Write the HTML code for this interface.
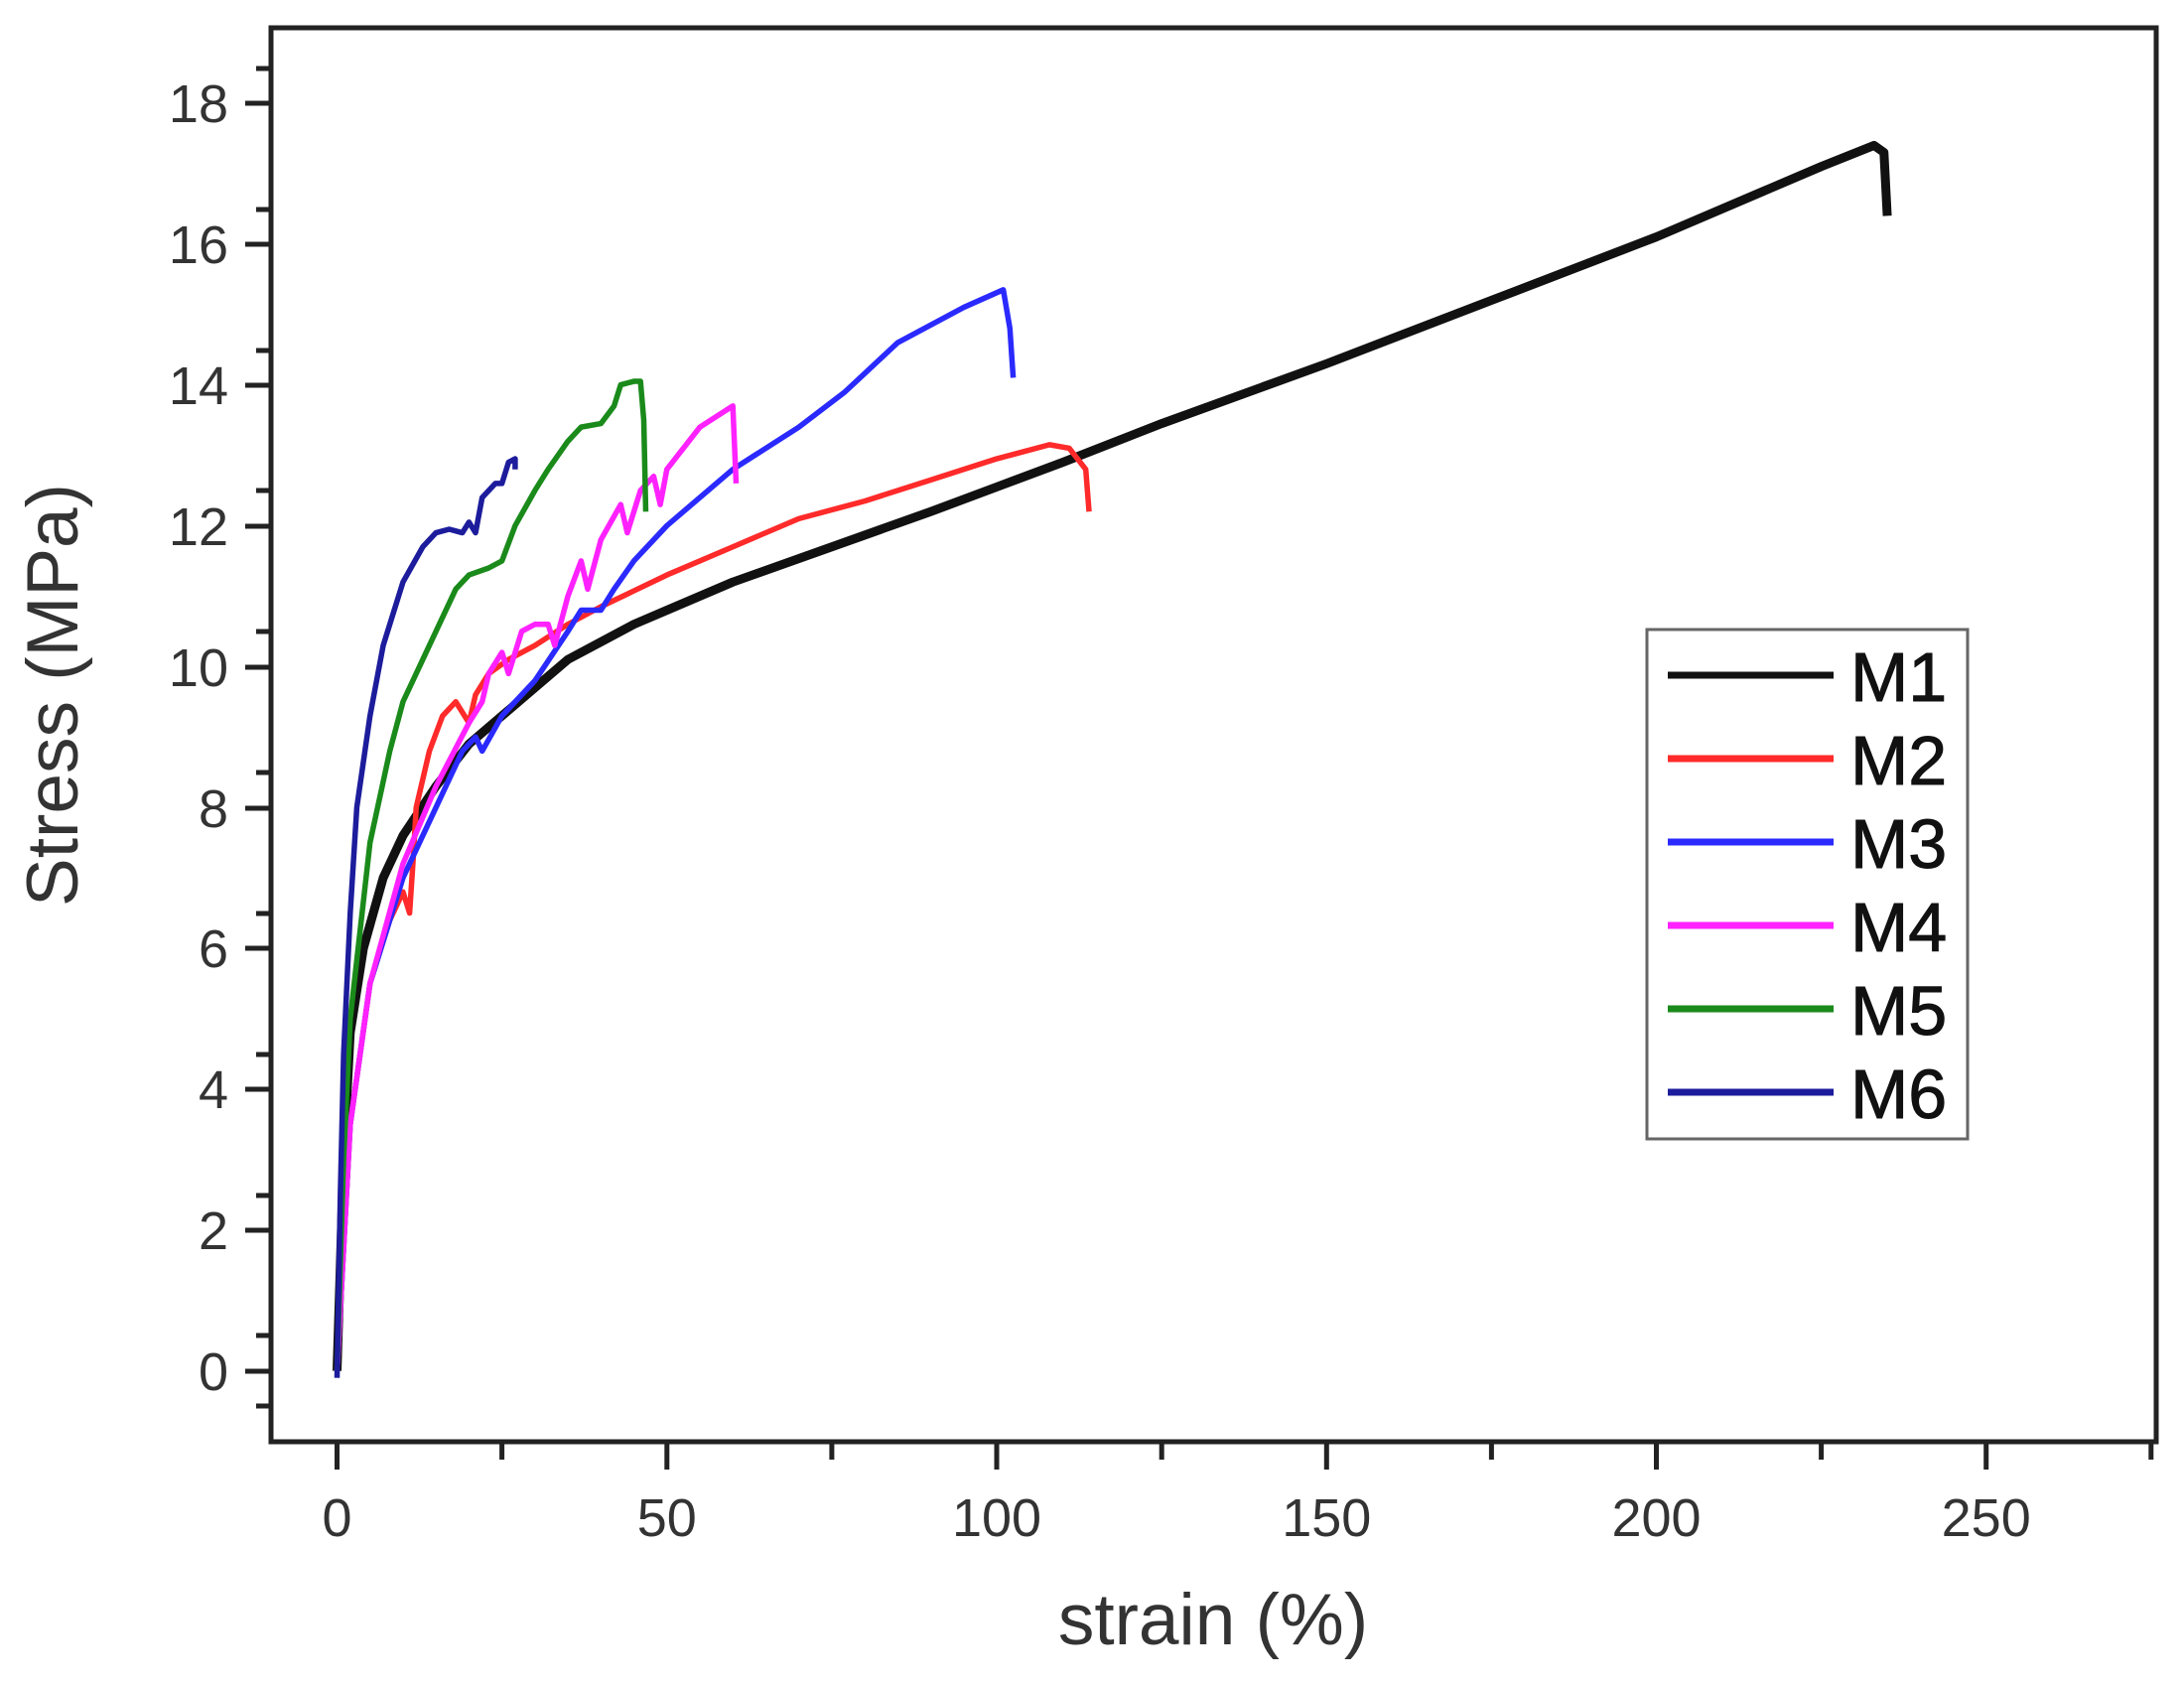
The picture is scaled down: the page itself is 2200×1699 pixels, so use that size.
<!DOCTYPE html>
<html><head><style>body{margin:0;background:#fff}</style></head><body>
<svg width="2200" height="1694" xmlns="http://www.w3.org/2000/svg" font-family="Liberation Sans, sans-serif">
<rect width="2200" height="1694" fill="#fff"/>
<rect x="273" y="28" width="1899" height="1424" fill="none" stroke="#222" stroke-width="5"/>
<g stroke="#222" stroke-width="5">
<line x1="247" y1="1381" x2="273" y2="1381"/><line x1="258" y1="1345" x2="273" y2="1345"/>
<line x1="247" y1="1239" x2="273" y2="1239"/><line x1="258" y1="1204" x2="273" y2="1204"/>
<line x1="247" y1="1097" x2="273" y2="1097"/><line x1="258" y1="1062" x2="273" y2="1062"/>
<line x1="247" y1="955" x2="273" y2="955"/><line x1="258" y1="920" x2="273" y2="920"/>
<line x1="247" y1="814" x2="273" y2="814"/><line x1="258" y1="778" x2="273" y2="778"/>
<line x1="247" y1="672" x2="273" y2="672"/><line x1="258" y1="636" x2="273" y2="636"/>
<line x1="247" y1="530" x2="273" y2="530"/><line x1="258" y1="494" x2="273" y2="494"/>
<line x1="247" y1="388" x2="273" y2="388"/><line x1="258" y1="353" x2="273" y2="353"/>
<line x1="247" y1="246" x2="273" y2="246"/><line x1="258" y1="211" x2="273" y2="211"/>
<line x1="247" y1="104" x2="273" y2="104"/><line x1="258" y1="69" x2="273" y2="69"/>
<line x1="258" y1="1416" x2="273" y2="1416"/>
<line x1="339.5" y1="1452" x2="339.5" y2="1480"/><line x1="505.6" y1="1452" x2="505.6" y2="1470"/>
<line x1="671.8" y1="1452" x2="671.8" y2="1480"/><line x1="837.9" y1="1452" x2="837.9" y2="1470"/>
<line x1="1004" y1="1452" x2="1004" y2="1480"/><line x1="1170.2" y1="1452" x2="1170.2" y2="1470"/>
<line x1="1336.3" y1="1452" x2="1336.3" y2="1480"/><line x1="1502.4" y1="1452" x2="1502.4" y2="1470"/>
<line x1="1668.5" y1="1452" x2="1668.5" y2="1480"/><line x1="1834.6" y1="1452" x2="1834.6" y2="1470"/>
<line x1="2000.7" y1="1452" x2="2000.7" y2="1480"/><line x1="2166.8" y1="1452" x2="2166.8" y2="1470"/>
</g>
<g font-size="54" fill="#333" text-anchor="end">
<text x="230" y="1400">0</text><text x="230" y="1258">2</text><text x="230" y="1116">4</text>
<text x="230" y="974">6</text><text x="230" y="833">8</text><text x="230" y="691">10</text>
<text x="230" y="549">12</text><text x="230" y="407">14</text><text x="230" y="265">16</text><text x="230" y="123">18</text>
</g>
<g font-size="54" fill="#333" text-anchor="middle">
<text x="339.5" y="1547">0</text><text x="671.8" y="1547">50</text><text x="1004" y="1547">100</text>
<text x="1336.3" y="1547">150</text><text x="1668.5" y="1547">200</text><text x="2000.7" y="1547">250</text>
</g>
<text x="1222" y="1656" font-size="73" fill="#333" text-anchor="middle">strain (%)</text>
<text transform="translate(78,700) rotate(-90)" font-size="73" fill="#333" text-anchor="middle">Stress (MPa)</text>
<g transform="matrix(6.645 0 0 -70.93 339.5 1380.6)" fill="none" stroke-linejoin="round">
<polyline vector-effect="non-scaling-stroke" stroke="#111" stroke-width="9" points="0,0 1,3 2,4.8 4,6 7,7 10,7.6 15,8.3 20,8.9 25,9.3 30,9.7 35,10.1 40,10.35 45,10.6 50,10.8 60,11.2 75,11.7 90,12.2 100,12.55 110,12.9 125,13.45 150,14.3 175,15.2 200,16.1 215,16.7 225,17.1 233,17.4 234.5,17.3 235,16.4"/>
<polyline vector-effect="non-scaling-stroke" stroke="#ff2a2a" stroke-width="5.5" points="0,0 2,3.5 5,5.5 8,6.4 10,6.8 11,6.5 11.5,7.2 12,8 14,8.8 16,9.3 18,9.5 20,9.2 21,9.6 23,9.9 26,10.1 30,10.3 35,10.6 40,10.85 50,11.3 60,11.7 70,12.1 80,12.35 90,12.65 100,12.95 108,13.15 111,13.1 113.5,12.8 114,12.2"/>
<polyline vector-effect="non-scaling-stroke" stroke="#2a2aff" stroke-width="5.5" points="0,0 2,3.5 5,5.5 10,7 15,8 19,8.8 21,9 22,8.8 25,9.3 30,9.8 35,10.5 37,10.8 40,10.8 42,11.1 45,11.5 50,12 60,12.8 70,13.4 77,13.9 85,14.6 95,15.1 101,15.35 102,14.8 102.5,14.1"/>
<polyline vector-effect="non-scaling-stroke" stroke="#ff22ff" stroke-width="5.5" points="0,0 2,3.5 5,5.5 10,7.2 15,8.3 20,9.2 22,9.5 23,9.9 25,10.2 26,9.9 28,10.5 30,10.6 32,10.6 33,10.3 35,11 37,11.5 38,11.1 40,11.8 43,12.3 44,11.9 46,12.5 48,12.7 49,12.3 50,12.8 55,13.4 60,13.7 60.5,12.6"/>
<polyline vector-effect="non-scaling-stroke" stroke="#1a8a1a" stroke-width="5.5" points="0,0 1,3 2,5 5,7.5 8,8.8 10,9.5 13,10.1 15,10.5 18,11.1 20,11.3 23,11.4 25,11.5 27,12 30,12.5 32,12.8 35,13.2 37,13.4 40,13.45 42,13.7 43,14 45,14.05 46,14.05 46.5,13.5 46.8,12.2"/>
<polyline vector-effect="non-scaling-stroke" stroke="#1c1c9c" stroke-width="5.5" points="0,-0.1 0.5,2.5 1,4.5 2,6.5 3,8 5,9.3 7,10.3 10,11.2 13,11.7 15,11.9 17,11.95 19,11.9 20,12.05 21,11.9 22,12.4 24,12.6 25,12.6 26,12.9 27,12.95 27,12.8"/>
</g>
<rect x="1659" y="634" width="323" height="513" fill="#fff" stroke="#666" stroke-width="3"/>
<g stroke-width="7">
<line x1="1680" y1="680" x2="1847" y2="680" stroke="#111"/>
<line x1="1680" y1="764" x2="1847" y2="764" stroke="#ff2a2a"/>
<line x1="1680" y1="848" x2="1847" y2="848" stroke="#2a2aff"/>
<line x1="1680" y1="932" x2="1847" y2="932" stroke="#ff22ff"/>
<line x1="1680" y1="1016" x2="1847" y2="1016" stroke="#1a8a1a"/>
<line x1="1680" y1="1100" x2="1847" y2="1100" stroke="#1c1c9c"/>
</g>
<g font-size="70" fill="#111" stroke="#111" stroke-width="1">
<text x="1864" y="706">M1</text><text x="1864" y="790">M2</text><text x="1864" y="874">M3</text>
<text x="1864" y="958">M4</text><text x="1864" y="1042">M5</text><text x="1864" y="1126">M6</text>
</g>
</svg>
</body></html>
